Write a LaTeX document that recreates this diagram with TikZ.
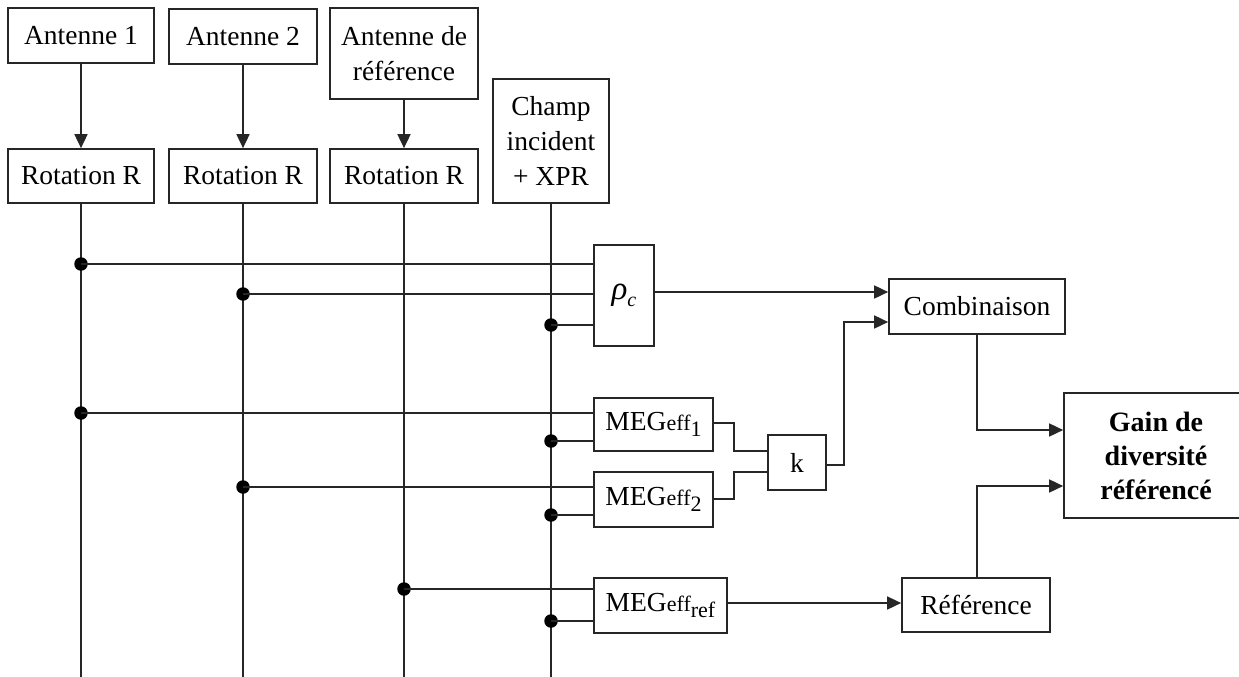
\documentclass[tikz,border=0pt]{standalone}
\usepackage{fontspec}
\setmainfont{Liberation Serif}
\usetikzlibrary{arrows.meta}
\tikzset{
  box/.style={draw=black!85, line width=1.7pt, inner sep=0pt, align=center, font=\fontsize{27.5}{35}\selectfont},
  ln/.style={draw=black!85, line width=1.7pt},
  arr/.style={ln, -{Triangle[length=14pt,width=13pt]}},
  jdot/.style={circle, fill=black, inner sep=0pt, minimum size=13.5pt}
}
\newcommand{\effsub}[1]{{\fontsize{22}{22}\selectfont eff\raisebox{-6pt}{#1}}}
\begin{document}
\begin{tikzpicture}[x=1pt,y=-1pt]
\useasboundingbox (0,0) rectangle (1239,677);
% top boxes
\node[box, minimum width=146pt, minimum height=55pt] (a1) at (81,35.5) {Antenne 1};
\node[box, minimum width=148pt, minimum height=55pt] (a2) at (243,36.5) {Antenne 2};
\node[box, minimum width=148pt, minimum height=91pt] (aref) at (404,53.5) {Antenne de\\référence};
\node[box, minimum width=116pt, minimum height=124pt] (champ) at (551,141) {Champ\\incident\\+ XPR};
\node[box, minimum width=146pt, minimum height=54pt] (r1) at (81,176) {Rotation R};
\node[box, minimum width=148pt, minimum height=54pt] (r2) at (243,176) {Rotation R};
\node[box, minimum width=148pt, minimum height=54pt] (r3) at (404,176) {Rotation R};
% processing boxes
\node[box, minimum width=60pt, minimum height=101pt] (rho) at (624,295.5) {\fontsize{33}{33}\selectfont\itshape ρ\raisebox{-7pt}{\fontsize{20}{20}\selectfont c}};
\node[box, minimum width=176pt, minimum height=55pt] (comb) at (977,306.5) {Combinaison};
\node[box, minimum width=119pt, minimum height=53pt] (meg1) at (653.5,424.5) {MEG\effsub{1}};
\node[box, minimum width=119pt, minimum height=55pt] (meg2) at (653.5,499.5) {MEG\effsub{2}};
\node[box, minimum width=58pt, minimum height=55pt] (k) at (797,462.5) {k};
\node[box, minimum width=133pt, minimum height=55pt] (megref) at (660.5,605.5) {MEG\effsub{ref}};
\node[box, minimum width=148pt, minimum height=54pt] (ref) at (976,605) {Référence};
\node[box, minimum width=184pt, minimum height=125pt, font=\fontsize{28}{34}\selectfont\bfseries] (gain) at (1156,455.5) {Gain de\\diversité\\référencé};
% arrows antenna -> rotation
\draw[arr] (a1.south) -- (r1.north);
\draw[arr] (a2.south) -- (r2.north);
\draw[arr] (aref.south) -- (r3.north);
% column lines
\coordinate (e1) at (81,677);
\coordinate (e2) at (243,677);
\coordinate (e3) at (404,677);
\coordinate (e4) at (551,677);
\draw[ln] (r1.south) -- (e1);
\draw[ln] (r2.south) -- (e2);
\draw[ln] (r3.south) -- (e3);
\draw[ln] (champ.south) -- (e4);
% junction dots
\node[jdot] (d1) at (81,264) {};
\node[jdot] (d2) at (243,294) {};
\node[jdot] (d3) at (551,325) {};
\node[jdot] (d4) at (81,413) {};
\node[jdot] (d5) at (551,441) {};
\node[jdot] (d6) at (243,487) {};
\node[jdot] (d7) at (551,515) {};
\node[jdot] (d8) at (404,589) {};
\node[jdot] (d9) at (551,621) {};
\draw[ln] (d1.center) -- (d1.center -| rho.west);
\draw[ln] (d2.center) -- (d2.center -| rho.west);
\draw[ln] (d3.center) -- (d3.center -| rho.west);
\draw[ln] (d4.center) -- (d4.center -| meg1.west);
\draw[ln] (d5.center) -- (d5.center -| meg1.west);
\draw[ln] (d6.center) -- (d6.center -| meg2.west);
\draw[ln] (d7.center) -- (d7.center -| meg2.west);
\draw[ln] (d8.center) -- (d8.center -| megref.west);
\draw[ln] (d9.center) -- (d9.center -| megref.west);
% helper levels
\coordinate (y1) at (0,292);
\coordinate (y2) at (0,322);
\coordinate (y3) at (0,423);
\coordinate (y4) at (0,451);
\coordinate (y5) at (0,499);
\coordinate (y6) at (0,472);
\coordinate (y7) at (0,465);
\coordinate (y8) at (0,603);
\coordinate (y9) at (0,430);
\coordinate (y10) at (0,486);
\coordinate (x1) at (734,0);
\coordinate (x2) at (844,0);
% rho -> combinaison
\draw[arr] (rho.east |- y1) -- (comb.west |- y1);
% meg1/meg2 -> k
\draw[ln] (meg1.east |- y3) -- (x1 |- y3) -- (x1 |- y4) -- (k.west |- y4);
\draw[ln] (meg2.east |- y5) -- (x1 |- y5) -- (x1 |- y6) -- (k.west |- y6);
% k -> combinaison
\draw[arr] (k.east |- y7) -- (x2 |- y7) -- (x2 |- y2) -- (comb.west |- y2);
% megref -> reference
\draw[arr] (megref.east |- y8) -- (ref.west |- y8);
% combinaison -> gain
\draw[arr] (comb.south) -- (comb.south |- y9) -- (gain.west |- y9);
% reference -> gain
\draw[arr] (ref.north -| comb.south) -- (comb.south |- y10) -- (gain.west |- y10);
\end{tikzpicture}
\end{document}
